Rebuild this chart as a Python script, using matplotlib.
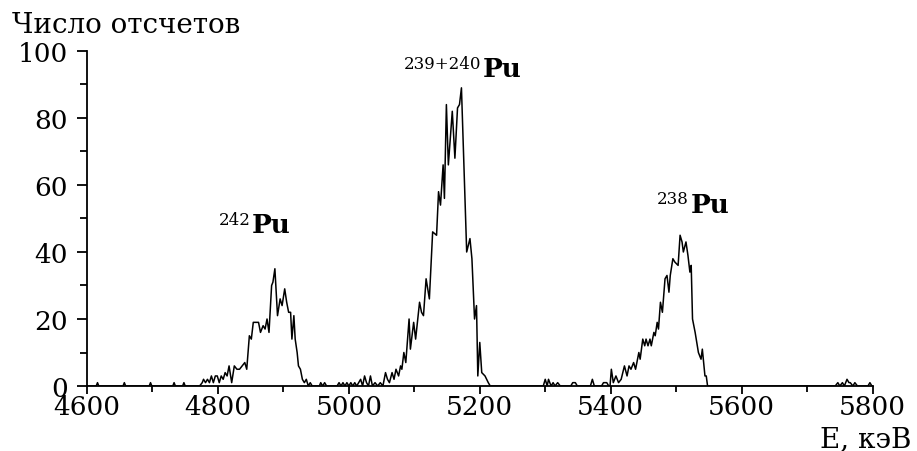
import numpy as np
import matplotlib.pyplot as plt
from matplotlib.ticker import MultipleLocator

plt.rcParams['font.family'] = 'DejaVu Serif'

# alpha spectrum, energy in keV and counts per channel
bg1_e = [4600, 4614, 4616, 4618, 4655, 4657, 4659, 4695, 4697, 4699, 4731, 4733, 4735, 4746, 4748, 4750, 4772]
bg1_c = [0, 0, 1, 0, 0, 1, 0, 0, 1, 0, 0, 1, 0, 0, 1, 0, 0]

pu242_e = [4776, 4778, 4781, 4784, 4787, 4790, 4793, 4796, 4799, 4802, 4805, 4808, 4811, 4814, 4817,
           4821, 4825, 4829, 4833, 4837, 4841, 4844, 4848, 4851, 4854, 4858, 4862, 4865, 4869, 4872,
           4875, 4878, 4882, 4884, 4887, 4891, 4895, 4898, 4902, 4905, 4908, 4911, 4913, 4916, 4918,
           4921, 4923, 4926, 4929, 4932, 4935, 4938]
pu242_c = [1, 2, 1, 2, 1, 3, 1, 3, 3, 1, 3, 2, 4, 3, 6,
           1, 6, 5, 5, 6, 7, 5, 15, 14, 19, 19, 19, 16, 18, 17,
           20, 16, 30, 31, 35, 21, 26, 24, 29, 25, 22, 22, 14, 21, 14,
           10, 6, 5, 2, 1, 2, 0]

gap1_e = [4941, 4944, 4955, 4957, 4960, 4963, 4966, 4982, 4985, 4988, 4991, 4994, 4997, 5000, 5003,
          5006, 5009, 5012, 5015, 5018, 5021, 5024, 5027, 5030]
gap1_c = [1, 0, 0, 1, 0, 1, 0, 0, 1, 0, 1, 0, 1, 0, 1,
          0, 1, 0, 1, 2, 0, 3, 1, 0]

pu239_e = [5033, 5036, 5040, 5044, 5048, 5052, 5056, 5059, 5062, 5066, 5069, 5072, 5076, 5079, 5081,
           5084, 5087, 5092, 5094, 5099, 5102, 5108, 5111, 5114, 5118, 5123, 5128, 5134, 5137, 5140,
           5144, 5146, 5149, 5152, 5158, 5162, 5166, 5169, 5172, 5180, 5185, 5188, 5192, 5195, 5197,
           5200, 5203, 5208, 5213, 5216]
pu239_c = [3, 0, 1, 0, 1, 0, 4, 2, 1, 4, 2, 5, 3, 6, 5,
           10, 7, 20, 11, 19, 14, 25, 22, 21, 32, 26, 46, 45, 58, 54,
           66, 56, 84, 66, 82, 68, 83, 84, 89, 40, 44, 38, 20, 24, 3,
           13, 4, 3, 1, 0]

gap2_e = [5297, 5300, 5303, 5305, 5309, 5312, 5315, 5319, 5323, 5339, 5342, 5346, 5349]
gap2_c = [0, 2, 0, 2, 0, 1, 0, 1, 0, 0, 1, 1, 0]

pu238_e = [5369, 5372, 5375, 5386, 5389, 5392, 5394, 5397, 5399, 5401, 5404, 5408, 5412, 5416, 5421,
           5425, 5428, 5431, 5435, 5438, 5440, 5443, 5445, 5449, 5452, 5454, 5457, 5460, 5462, 5466,
           5468, 5471, 5473, 5476, 5479, 5483, 5486, 5489, 5491, 5495, 5498, 5503, 5506, 5509, 5511,
           5515, 5518, 5521, 5523, 5525, 5529, 5534, 5538, 5540, 5544, 5546, 5548]
pu238_c = [0, 2, 0, 0, 1, 1, 1, 0, 0, 5, 1, 3, 1, 2, 6,
           3, 6, 5, 7, 5, 7, 10, 8, 14, 12, 14, 12, 14, 12, 16,
           15, 19, 17, 25, 22, 32, 33, 28, 33, 38, 37, 36, 45, 43, 40,
           43, 39, 34, 36, 20, 16, 10, 8, 11, 3, 3, 0]

bg2_e = [5743, 5747, 5750, 5754, 5757, 5761, 5764, 5766, 5770, 5773, 5777, 5793, 5796, 5799, 5800]
bg2_c = [0, 1, 0, 1, 0, 2, 1, 1, 0, 1, 0, 0, 1, 0, 0]

# isotope labels: mass number, left edge of "Pu" (keV), baseline (counts)
peak_mass = ['242', '239+240', '238']
peak_x = [4852, 5205, 5522]
peak_y = [46, 92.5, 52]

energy = np.concatenate([bg1_e, pu242_e, gap1_e, pu239_e, gap2_e, pu238_e, bg2_e])
counts = np.concatenate([bg1_c, pu242_c, gap1_c, pu239_c, gap2_c, pu238_c, bg2_c])

fig = plt.figure(figsize=(9.17, 4.52), dpi=100)
ax = fig.add_axes([0.0949, 0.1438, 0.8566, 0.7412])
ax.plot(energy, counts, color='black', lw=1.1)

ax.set_xlim(4600, 5800)
ax.set_ylim(0, 100)
ax.spines[['top', 'right']].set_visible(False)
ax.spines[['left', 'bottom']].set_linewidth(1.3)
ax.xaxis.set_major_locator(MultipleLocator(200))
ax.xaxis.set_minor_locator(MultipleLocator(100))
ax.yaxis.set_major_locator(MultipleLocator(20))
ax.yaxis.set_minor_locator(MultipleLocator(10))
ax.tick_params(axis='both', which='both', width=1.3, labelsize=19)
ax.tick_params(axis='x', which='major', length=6, pad=0)
ax.tick_params(axis='x', which='minor', length=4)
ax.tick_params(axis='y', which='major', length=7, pad=7)
ax.tick_params(axis='y', which='minor', length=5)

# "Pu" in bold with the mass number as a small superscript before it
for m, x, y in zip(peak_mass, peak_x, peak_y):
    ax.text(x, y, 'Pu', ha='left', va='baseline', fontsize=19, fontweight='bold')
    ax.annotate(m, xy=(x, y), xytext=(-1, 6), textcoords='offset points',
                ha='right', va='baseline', fontsize=12)

fig.text(12 / 917, 1 - 33 / 452, 'Число отсчетов', fontsize=20, ha='left', va='baseline')
fig.text(912 / 917, 1 - 447 / 452, 'E, кэВ', fontsize=20, ha='right', va='baseline')

fig.savefig('out.png', dpi=100)
